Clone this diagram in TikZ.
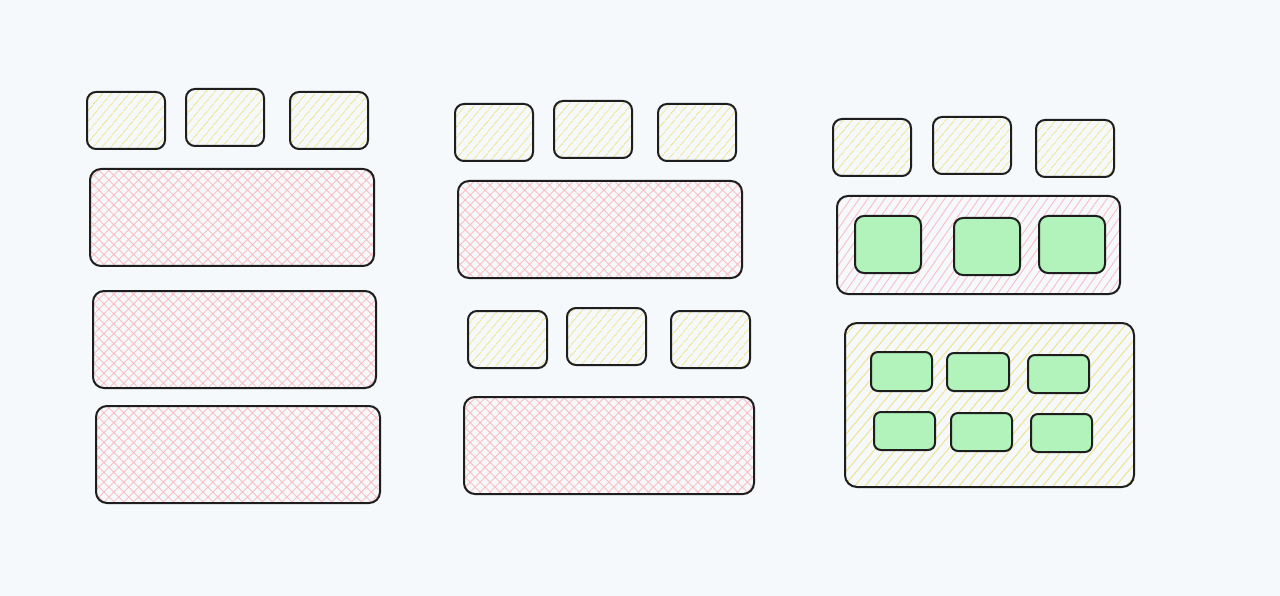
\documentclass[tikz,border=0pt]{standalone}
\usetikzlibrary{patterns.meta,fit}
\definecolor{bgc}{RGB}{245,249,252}
\definecolor{strokec}{RGB}{30,30,30}
\definecolor{yhatch}{RGB}{240,226,140}
\definecolor{phatch}{RGB}{250,190,195}
\definecolor{greenf}{RGB}{178,242,187}
\tikzset{
  base/.style={draw=strokec, line width=2pt, rounded corners=9pt, inner sep=0pt, outer sep=0pt},
  ybox/.style={base, pattern={Lines[angle=50,distance=6.5pt,line width=1pt]}, pattern color=yhatch},
  pbox/.style={base, rounded corners=11pt, pattern={Hatch[angle=45,distance=7pt,line width=0.9pt]}, pattern color=phatch},
  plines/.style={base, rounded corners=11pt, pattern={Lines[angle=55,distance=7pt,line width=0.9pt]}, pattern color=phatch},
  ylarge/.style={base, rounded corners=12pt, pattern={Lines[angle=50,distance=8pt,line width=1pt]}, pattern color=yhatch},
  gbox/.style={base, fill=greenf},
}
\begin{document}
\begin{tikzpicture}[x=1pt,y=-1pt]
\fill[bgc] (0,0) rectangle (1280,596);
\useasboundingbox (0,0) rectangle (1280,596);
% column 1
\node[ybox, fit={(87,92) (165,149)}] (a1) {};
\node[ybox, fit={(186,89) (264,146)}] (a2) {};
\node[ybox, fit={(290,92) (368,149)}] (a3) {};
\node[pbox, fit={(90,169) (374,266)}] (a4) {};
\node[pbox, fit={(93,291) (376,388)}] (a5) {};
\node[pbox, fit={(96,406) (380,503)}] (a6) {};
% column 2
\node[ybox, fit={(455,104) (533,161)}] (b1) {};
\node[ybox, fit={(554,101) (632,158)}] (b2) {};
\node[ybox, fit={(658,104) (736,161)}] (b3) {};
\node[pbox, fit={(458,181) (742,278)}] (b4) {};
\node[ybox, fit={(468,311) (547,368)}] (b5) {};
\node[ybox, fit={(567,308) (646,365)}] (b6) {};
\node[ybox, fit={(671,311) (750,368)}] (b7) {};
\node[pbox, fit={(464,397) (754,494)}] (b8) {};
% column 3
\node[ybox, fit={(833,119) (911,176)}] (c1) {};
\node[ybox, fit={(933,117) (1011,174)}] (c2) {};
\node[ybox, fit={(1036,120) (1114,177)}] (c3) {};
\node[plines, fit={(837,196) (1120,294)}] (c4) {};
\node[gbox, fit={(855,216) (921,273)}] (g1) {};
\node[gbox, fit={(954,218) (1020,275)}] (g2) {};
\node[gbox, fit={(1039,216) (1105,273)}] (g3) {};
\node[ylarge, fit={(845,323) (1134,487)}] (c5) {};
\node[gbox, rounded corners=7pt, fit={(871,352) (932,391)}] (h1) {};
\node[gbox, rounded corners=7pt, fit={(947,353) (1009,391)}] (h2) {};
\node[gbox, rounded corners=7pt, fit={(1028,355) (1089,393)}] (h3) {};
\node[gbox, rounded corners=7pt, fit={(874,412) (935,450)}] (h4) {};
\node[gbox, rounded corners=7pt, fit={(951,413) (1012,451)}] (h5) {};
\node[gbox, rounded corners=7pt, fit={(1031,414) (1092,452)}] (h6) {};
\end{tikzpicture}
\end{document}
